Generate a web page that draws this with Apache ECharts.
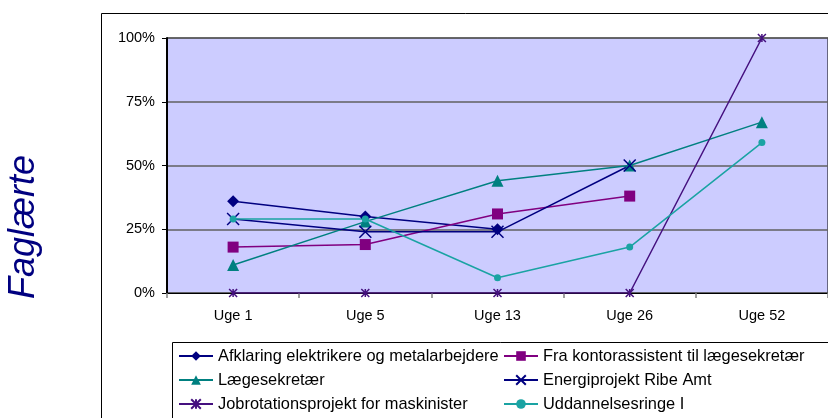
<!DOCTYPE html>
<html>
<head>
<meta charset="utf-8">
<script src="https://cdn.jsdelivr.net/npm/echarts@6/dist/echarts.min.js"></script>
<style>
  html, body { margin: 0; padding: 0; background: #fff; }
  #chart { width: 828px; height: 418px; }
</style>
</head>
<body>
<div id="chart"></div>
<script>
// uger på x-aksen
const categories = ["Uge 1", "Uge 5", "Uge 13", "Uge 26", "Uge 52"];
const yTicks = [0, 25, 50, 75, 100];

// andel i procent pr. projekt
const afklaring = [36, 30, 25, null, null];
const kontorassistent = [18, 19, 31, 38, null];
const laegesekretaer = [11, 28, 44, 50, 67];
const energiprojekt = [29, 24, 24, 50, null];
const jobrotation = [0, 0, 0, 0, 100];
const uddannelsesringe = [29, 29, 6, 18, 59];

const font = "'Liberation Sans', Arial, sans-serif";
const xPath = "path://M0,0L10,10M10,0L0,10";
const starPath = "path://M0,0L10,10M10,0L0,10M5,0L5,10";

function line(name, data, color, symbol, size, extra) {
  return Object.assign({
    name: name,
    type: "line",
    data: data,
    color: color,
    symbol: symbol,
    symbolSize: size,
    showSymbol: true,
    connectNulls: false,
    lineStyle: { width: 1.5, color: color },
    itemStyle: { color: color },
    emphasis: { disabled: true },
    animation: false,
  }, extra || {});
}

const legendText = { fontFamily: font, fontSize: 16.4, color: "#000", lineHeight: 16 };

const chart = echarts.init(document.getElementById("chart"));
chart.setOption({
  backgroundColor: "#fff",
  animation: false,
  grid: {
    left: 167, top: 38, width: 665, height: 255,
    show: true, backgroundColor: "#CCCCFF",
    borderColor: "#000", borderWidth: 1,
  },
  xAxis: {
    type: "category",
    data: categories,
    boundaryGap: true,
    axisLine: { lineStyle: { color: "#000", width: 1 } },
    axisTick: { show: true, interval: 0, length: 5, lineStyle: { color: "#808080", width: 1.5 } },
    axisLabel: { interval: 0, margin: 15, color: "#000", fontFamily: font, fontSize: 14.5 },
    splitLine: { show: false },
  },
  yAxis: {
    type: "value",
    min: yTicks[0], max: yTicks[yTicks.length - 1], interval: 25,
    axisLine: { show: true, lineStyle: { color: "#000", width: 2 } },
    axisTick: { show: true, length: 5, lineStyle: { color: "#000" } },
    axisLabel: { margin: 12, color: "#000", fontFamily: font, fontSize: 14.5, formatter: "{value}%" },
    splitLine: { show: true, lineStyle: { color: "#606060", width: 1.5 } },
  },
  legend: [
    {
      orient: "vertical", left: 178, top: 348, padding: 0,
      itemWidth: 34, itemHeight: 12, itemGap: 8,
      textStyle: legendText,
      data: ["Afklaring elektrikere og metalarbejdere", "Lægesekretær", "Jobrotationsprojekt for maskinister"],
    },
    {
      orient: "vertical", left: 503, top: 348, padding: 0,
      itemWidth: 34, itemHeight: 12, itemGap: 8,
      textStyle: legendText,
      data: ["Fra kontorassistent til lægesekretær", "Energiprojekt Ribe Amt", "Uddannelsesringe I"],
    },
  ],
  graphic: [
    { type: "rect", shape: { x: 101.5, y: 13.5, width: 800, height: 500 }, style: { fill: "none", stroke: "#000", lineWidth: 1 }, z: -1 },
    { type: "rect", shape: { x: 172.5, y: 342.5, width: 700, height: 100 }, style: { fill: "none", stroke: "#000", lineWidth: 1 }, z: -1 },
    {
      type: "text", x: 24, y: 227, rotation: Math.PI / 2,
      style: { text: "Faglærte", fill: "#000080", font: "italic 36px " + font, align: "center", verticalAlign: "middle" },
    },
  ],
  series: [
    line("Afklaring elektrikere og metalarbejdere", afklaring, "#000080", "diamond", 12),
    line("Fra kontorassistent til lægesekretær", kontorassistent, "#800080", "rect", 11),
    line("Lægesekretær", laegesekretaer, "#008080", "triangle", 12),
    line("Energiprojekt Ribe Amt", energiprojekt, "#000080", xPath, 12, {
      itemStyle: { color: "#000080", borderColor: "#000080", borderWidth: 1.5 },
    }),
    line("Jobrotationsprojekt for maskinister", jobrotation, "#45107F", starPath, 8, {
      itemStyle: { color: "#45107F", borderColor: "#45107F", borderWidth: 1.5 },
    }),
    line("Uddannelsesringe I", uddannelsesringe, "#1AA3A3", "circle", 7),
  ],
});
</script>
</body>
</html>
